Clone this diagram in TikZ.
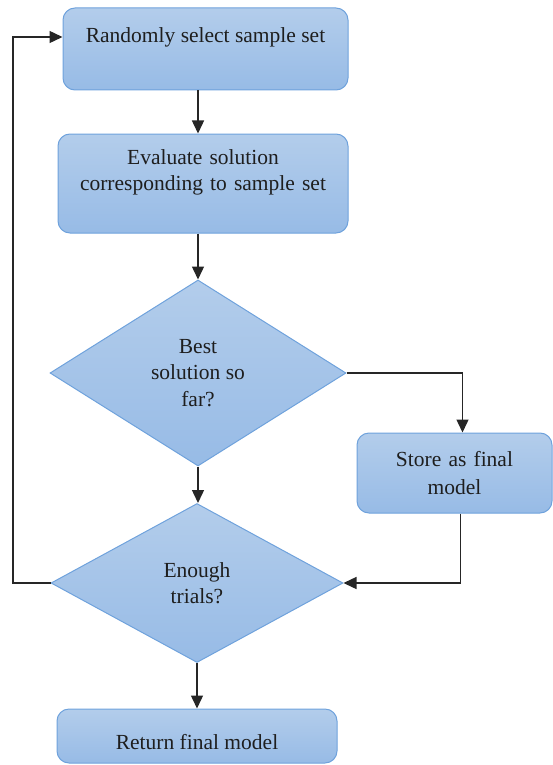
\documentclass[tikz,border=0pt]{standalone}
\usepackage{fontspec}
\setmainfont{Liberation Serif}[Ligatures=TeX]
\usepackage{tikz}
\usetikzlibrary{arrows.meta, positioning, shapes.geometric, calc}

\definecolor{boxtop}{HTML}{B3CDEB}
\definecolor{boxbottom}{HTML}{97BBE6}
\definecolor{boxline}{HTML}{6FA2DC}
\definecolor{textgray}{HTML}{1E1E1E}

\begin{document}
\begin{tikzpicture}[
    x=1pt, y=-1pt,
    process/.style={rectangle, rounded corners=12pt, draw=boxline, line width=1pt, top color=boxtop, bottom color=boxbottom, text=textgray, inner sep=0pt, font=\rmfamily\fontsize{21.5}{26}\selectfont},
    decision/.style={diamond, draw=boxline, line width=1pt, top color=boxtop, bottom color=boxbottom, text=textgray, inner sep=0pt, align=center, font=\rmfamily\fontsize{21.5}{26.5}\selectfont},
    flow/.style={-{Triangle[width=12pt,length=13pt]}, line width=1.4pt, black!85}
    ]
    \useasboundingbox (0,0) rectangle (552,765);

    % Steps
    \node[process, minimum width=285pt, text height=35pt, text depth=47pt] (select) at (205.5,49) {Randomly select sample set};
    \node[process, minimum width=290pt, text width=280pt, align=center, text height=30pt, text depth=69pt] (evaluate) at (203,183.5) {Evaluate solution\\corresponding to sample set};

    % Decisions
    \node[decision, minimum width=296pt, minimum height=186pt] (best) at (198,373) {Best\\solution so\\far?};
    \node[decision, minimum width=292pt, minimum height=159pt] (enough) at (197,583) {Enough\\trials?};

    % Side branch
    \node[process, minimum width=195pt, minimum height=80pt, text width=185pt, align=center, font=\rmfamily\fontsize{21.5}{28}\selectfont] (store) at (454.5,473) {Store as final\\model};

    % End
    \node[process, minimum width=280pt, text height=40pt, text depth=14pt] (return) at (197,736) {Return final model};

    % Main flow
    \draw[flow] (select.south -| best.north) -- (evaluate.north -| best.north);
    \draw[flow] (evaluate.south -| best.north) -- (best.north);
    \draw[flow] (best.south) -- (best.south |- enough.north);
    \draw[flow] (enough.south) -- (return.north -| enough.south);

    % Store branch
    \draw[flow] (best.east) -| ([xshift=8pt]store.north);
    \draw[flow] ([xshift=6pt]store.south) |- (enough.east);

    % Loop back
    \coordinate (loop) at (13,37);
    \draw[flow] (enough.west) -| (loop) -- (loop -| select.west);
\end{tikzpicture}
\end{document}
